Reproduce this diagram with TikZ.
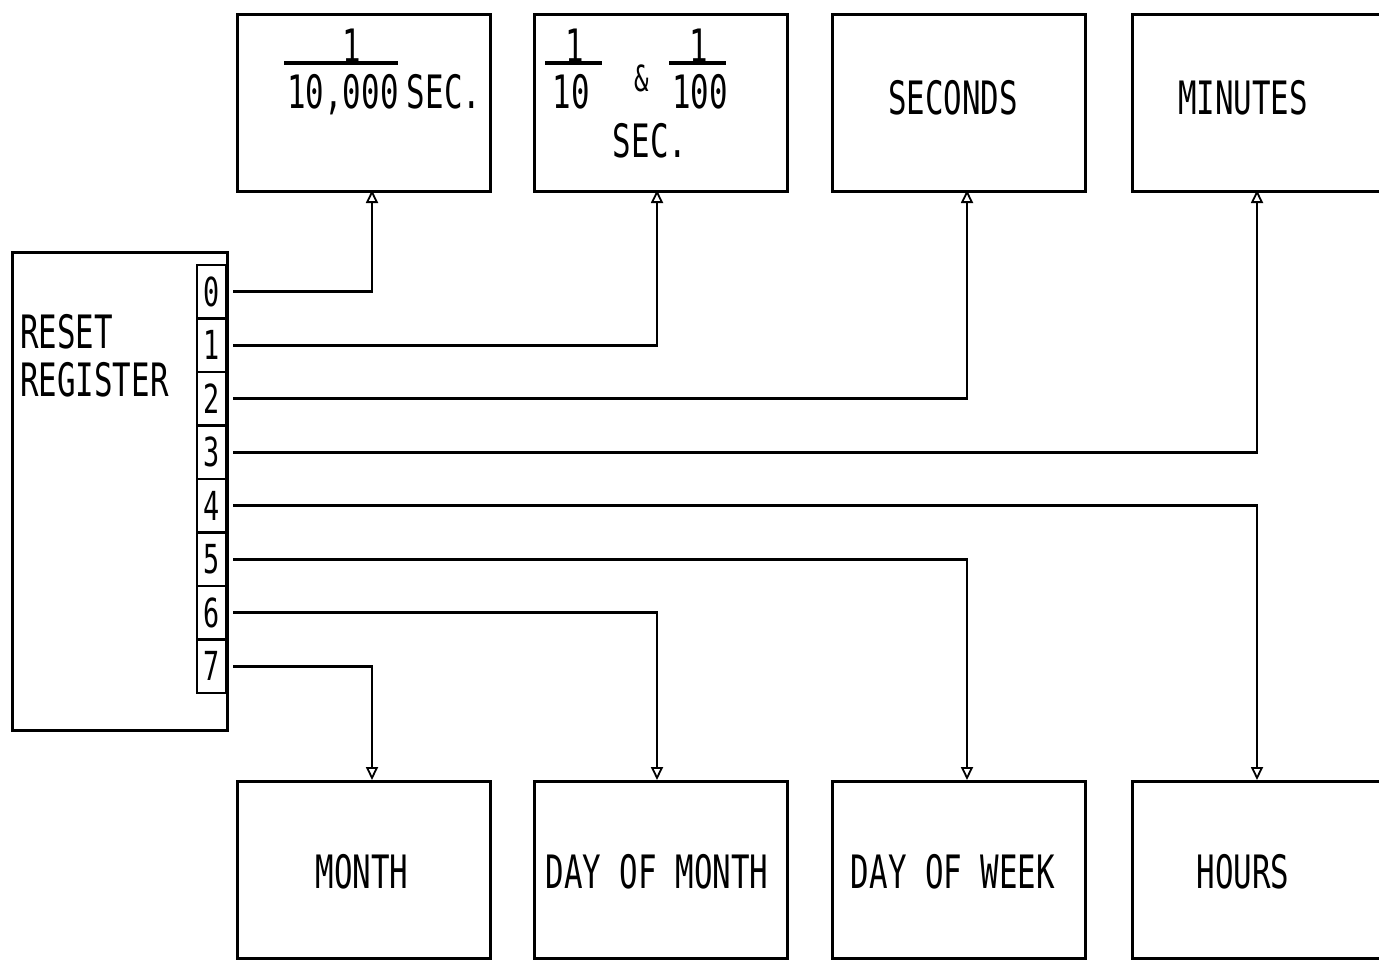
\documentclass[tikz,border=0pt]{standalone}
\usepackage{fontspec}
\newfontfamily\plotfont[FakeStretch=0.67]{DejaVu Sans Mono}
\usetikzlibrary{arrows.meta}
\tikzset{
  box/.style={draw, line width=2.8pt, minimum width=253pt, minimum height=177pt, inner sep=0pt, anchor=north west},
  lbl/.style={font=\plotfont\fontsize{46}{48}\selectfont, inner sep=0pt, anchor=base},
  small/.style={font=\plotfont\fontsize{36}{38}\selectfont, inner sep=0pt, anchor=base},
  cell/.style={draw, line width=2.6pt, minimum width=29pt, minimum height=53.5pt, inner sep=0pt, font=\plotfont\fontsize{40}{42}\selectfont},
  conn/.style={line width=2.8pt, -{Triangle[open, length=13pt, width=12pt, line width=1.8pt]}, shorten <=6pt},
  bar/.style={line width=3.8pt}
}
\begin{document}
\begin{tikzpicture}[x=1pt, y=-1pt]
\useasboundingbox (0,0) rectangle (1379,959);
\fill[white] (0,0) rectangle (1379,959);
\clip (0,0) rectangle (1379,959);

% top boxes
\node[box] (b1) at (236,13) {};
\node[box] (b2) at (533,13) {};
\node[box] (b3) at (831,13) {};
\node[box] (b4) at (1131,13) {};
% bottom boxes
\node[box] (m1) at (236,780) {};
\node[box] (m2) at (533,780) {};
\node[box] (m3) at (831,780) {};
\node[box] (m4) at (1131,780) {};

% top texts
\node[lbl] (n1) at (352,62) {1};
\draw[bar] (284,63) -- (398,63);
\node[lbl] (d1) at (343,108) {10,000};
\node[lbl] (s1) at (444,108) {SEC.};

\node[lbl] (n2a) at (575,62) {1};
\draw[bar] (545,63) -- (602,63);
\node[lbl] (d2a) at (571,108) {10};
\node[small] (amp) at (642,91) {\&};
\node[lbl] (n2b) at (699,62) {1};
\draw[bar] (669,63) -- (726,63);
\node[lbl] (d2b) at (700,108) {100};
\node[lbl] (s2) at (650,157) {SEC.};

\node[lbl] (t3) at (953,114) {SECONDS};
\node[lbl] (t4) at (1243,114) {MINUTES};

% bottom texts
\node[lbl] (u1) at (362,888) {MONTH};
\node[lbl] (u2) at (657,888) {DAY OF MONTH};
\node[lbl] (u3) at (953,888) {DAY OF WEEK};
\node[lbl] (u4) at (1243,888) {HOURS};

% reset register
\node[draw, line width=2.8pt, minimum width=215pt, minimum height=478pt, inner sep=0pt, anchor=north west] (reg) at (11,251) {};
\node[lbl, anchor=base west] (r1) at (20,348) {RESET};
\node[lbl, anchor=base west] (r2) at (20,396) {REGISTER};

\foreach \i in {0,...,7}{
  \node[cell] (c\i) at (211.5,{265+53.5*(\i+0.5)}) {\i};
}

% arrow targets
\coordinate (a0) at (372,190);
\coordinate (a1) at (657,190);
\coordinate (a2) at (967,190);
\coordinate (a3) at (1257,190);
\coordinate (a4) at (1257,780);
\coordinate (a5) at (967,780);
\coordinate (a6) at (657,780);
\coordinate (a7) at (372,780);

\foreach \i in {0,...,7}{
  \draw[conn] (c\i.east) -| (a\i);
}
\end{tikzpicture}
\end{document}
